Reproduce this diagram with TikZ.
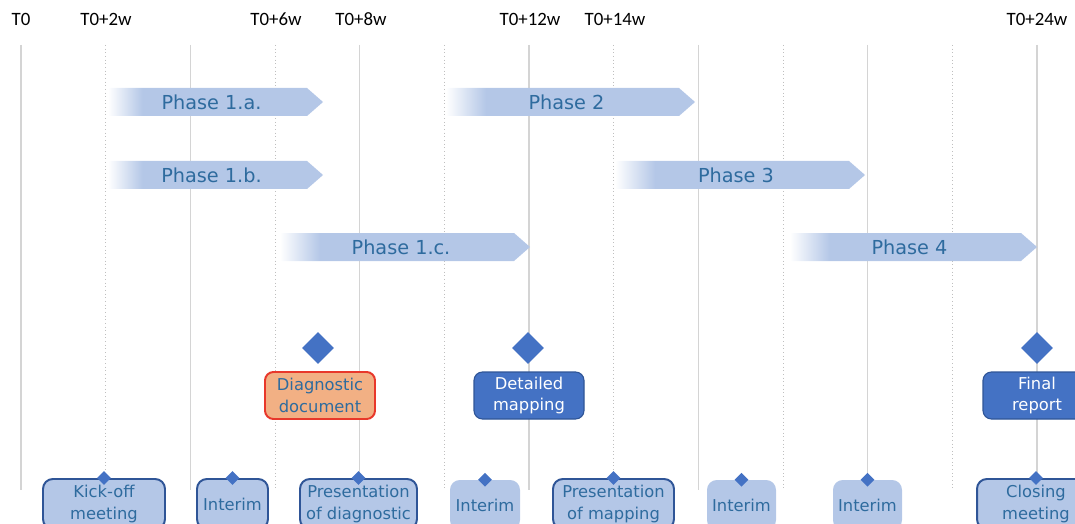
\documentclass[tikz,border=0pt]{standalone}
\usepackage{fontspec}
\setmainfont{Carlito}
\newfontfamily\boxfont{DejaVu Sans}
\usetikzlibrary{shapes.geometric}

\definecolor{phasecol}{HTML}{B4C7E7}
\definecolor{phasetext}{HTML}{2E6B9E}
\definecolor{mscol}{HTML}{4472C4}
\definecolor{msline}{HTML}{2F5597}
\definecolor{diagfill}{HTML}{F2B084}
\definecolor{diagline}{HTML}{E8382B}
\definecolor{gridcol}{HTML}{D4D4D4}

\pgfdeclarehorizontalshading{phasefade}{100bp}{color(0bp)=(white); color(25bp)=(white); color(33bp)=(phasecol); color(100bp)=(phasecol)}
\newcommand\pxu{0.025cm}

\begin{document}
\begin{tikzpicture}[
  x=0.025cm, y=-0.025cm,
  week/.style={font=\fontsize{13.4}{16}\selectfont, text=black},
  gridmajor/.style={draw=gridcol, line width=1pt},
  gridminor/.style={draw=gridcol!90!black, line width=0.6pt, dotted},
  phase/.style={font=\boxfont\fontsize{13.7}{16}\selectfont, text=phasetext, inner sep=0pt},
  milestone/.style={diamond, fill=mscol, inner sep=0pt, minimum size=32*\pxu},
  deliv/.style={rounded corners=6pt, align=center, inner sep=0pt,
                minimum width=110*\pxu, minimum height=47*\pxu,
                font=\boxfont\fontsize{11.6}{15.5}\selectfont},
  draft/.style={deliv, fill=diagfill, draw=diagline, line width=1.4pt, text=phasetext},
  done/.style={deliv, fill=mscol, draw=msline, line width=0.8pt, text=white},
  meet/.style={rounded corners=7pt, align=center, inner sep=0pt, fill=phasecol,
               minimum height=50*\pxu, text=phasetext,
               font=\boxfont\fontsize{11.6}{15}\selectfont},
  meetbox/.style={meet, draw=msline, line width=1.4pt},
  tick/.style={diamond, fill=mscol, inner sep=0pt, minimum size=14*\pxu},
]
\useasboundingbox (0,0) rectangle (1075,524);

% time grid
\foreach \i in {0,2,...,12}
  \draw[gridmajor] ({21+84.67*\i},45) -- ({21+84.67*\i},490);
\foreach \i in {1,3,...,11}
  \draw[gridminor] ({21+84.67*\i},45) -- ({21+84.67*\i},490);

\node[week] (t0) at (21,19) {T0};
\node[week] (t2) at (106,19) {T0+2w};
\node[week] (t6) at (276,19) {T0+6w};
\node[week] (t8) at (361,19) {T0+8w};
\node[week] (t12) at (530,19) {T0+12w};
\node[week] (t14) at (615,19) {T0+14w};
\node[week] (t24) at (1037,19) {T0+24w};

% phases
\foreach \n/\xa/\xb/\y/\txt in {p1a/108/323/102/Phase 1.a., p1b/108/323/175/Phase 1.b.,
    p1c/280/530/247/Phase 1.c., p2/446/695/102/Phase 2, p3/615/865/175/Phase 3,
    p4/790/1037/247/Phase 4} {
  \shade[shading=phasefade] (\xa,\y-14) -- (\xb-16,\y-14) -- (\xb,\y)
    -- (\xb-16,\y+14) -- (\xa,\y+14) -- cycle;
  \node[phase] (\n) at ({(\xa+\xb-8)/2},\y) {\txt};
}

% deliverables
\node[milestone] (ms1) at (318,348) {};
\node[milestone] (ms2) at (528,348) {};
\node[milestone] (ms3) at (1037,348) {};
\node[draft] (diag) at (320,395.5) {Diagnostic\\document};
\node[done] (mapping) at (529,395.5) {Detailed\\mapping};
\node[done, minimum width=108*\pxu] (final) at (1037,395.5) {Final\\report};

% meetings
\node[meetbox, minimum width=122*\pxu] (kickoff) at (104,504) {Kick-off\\meeting};
\node[meetbox, minimum width=71*\pxu] (interim1) at (232.5,504) {Interim};
\node[meetbox, minimum width=117*\pxu] (presdiag) at (358.5,504) {Presentation\\of diagnostic};
\node[meet, minimum width=70*\pxu] (interim2) at (485,505) {Interim};
\node[meetbox, minimum width=121*\pxu] (presmap) at (613.5,504) {Presentation\\of mapping};
\node[meet, minimum width=69*\pxu] (interim3) at (741.5,505) {Interim};
\node[meet, minimum width=69*\pxu] (interim4) at (867.5,505) {Interim};
\node[meetbox, minimum width=118*\pxu] (closing) at (1036,504) {Closing\\meeting};

\foreach \m in {kickoff, interim1, presdiag, interim2, presmap, interim3, interim4, closing}
  \node[tick] (\m-tick) at (\m.north) {};

\end{tikzpicture}
\end{document}
